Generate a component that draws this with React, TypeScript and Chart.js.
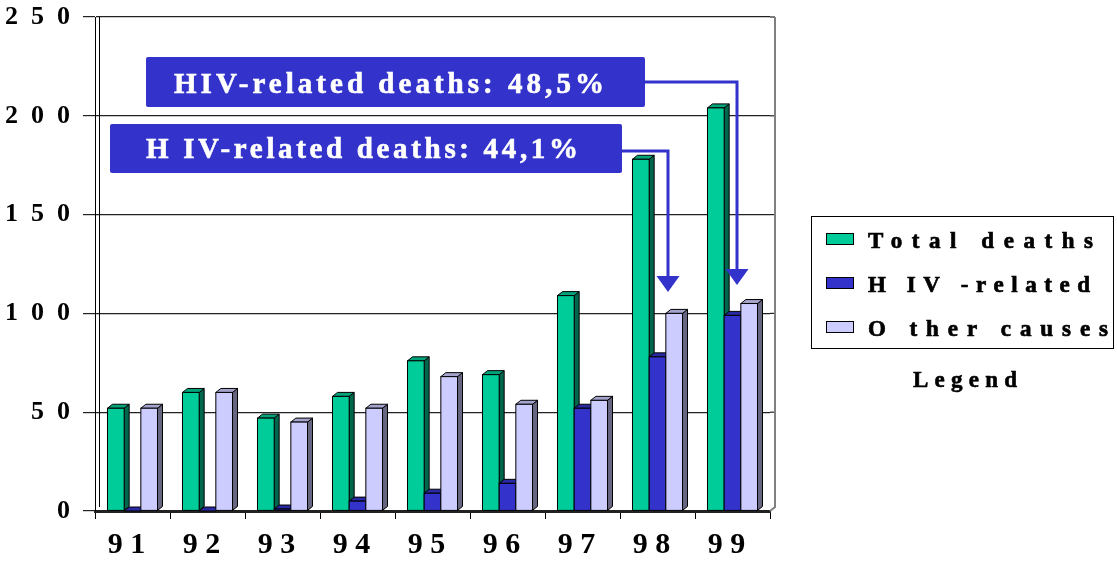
import React, { useEffect, useRef } from "react";
import { Chart, registerables } from "chart.js";

Chart.register(...registerables);

// ---- data ----
const years = ["91", "92", "93", "94", "95", "96", "97", "98", "99"];
const totalDeaths = [52, 60, 47, 58, 76, 69, 109, 178, 204];
const hivRelated = [0, 0, 1, 5, 9, 14, 52, 78, 99];
const otherCauses = [52, 60, 45, 52, 68, 54, 56, 100, 105];
const seriesLabels = ["Total deaths", "H IV -related", "O ther causes"];
const yTickValues = [0, 50, 100, 150, 200, 250];
const legendTitle = "Legend";
const calloutTexts = ["HIV-related deaths: 48,5%", "H IV-related deaths: 44,1%"];

// ---- styles ----
const FRONT = ["#00CC99", "#3333CC", "#CCCCFF"];
const SIDE = ["#00664C", "#1A1A66", "#666680"];
const TOP = ["#00A37A", "#2929A3", "#A3A3CC"];
const DX = 5;
const DY = 4;
const FONT = "'Liberation Serif', 'Times New Roman', serif";
const CALLOUT_BLUE = "#3333CC";

function spacedText(ctx: CanvasRenderingContext2D, text: string, x: number, y: number, width: number, heavy = 0) {
  const anyCtx = ctx as any;
  anyCtx.letterSpacing = "0px";
  const nat = ctx.measureText(text).width;
  const sp = (width - nat) / Math.max(1, text.length - 1);
  if ("letterSpacing" in anyCtx) {
    anyCtx.letterSpacing = sp.toFixed(2) + "px";
    ctx.fillText(text, x, y);
    if (heavy > 0) {
      ctx.lineWidth = heavy;
      ctx.strokeStyle = ctx.fillStyle as string;
      ctx.strokeText(text, x, y);
    }
    anyCtx.letterSpacing = "0px";
  } else {
    let cx = x;
    for (const ch of text) {
      ctx.fillText(ch, cx, y);
      cx += ctx.measureText(ch).width + sp;
    }
  }
}

const wallPlugin = {
  id: "wall",
  beforeDatasetsDraw(chart: any) {
    const { ctx, chartArea } = chart;
    const ys = chart.scales.y;
    ctx.save();
    ctx.strokeStyle = "#222";
    ctx.lineWidth = 1.2;
    for (const v of yTickValues) {
      if (v === 0) continue;
      const py = ys.getPixelForValue(v);
      ctx.beginPath();
      ctx.moveTo(chartArea.right, py);
      ctx.lineTo(chartArea.right + DX, py);
      ctx.stroke();
    }
    ctx.strokeStyle = "#000";
    ctx.lineWidth = 1;
    ctx.beginPath();
    ctx.moveTo(chartArea.left + DX - 0.5, chartArea.top);
    ctx.lineTo(chartArea.left + DX - 0.5, chartArea.bottom - DY);
    ctx.stroke();
    ctx.strokeStyle = "#808080";
    ctx.lineWidth = 2;
    ctx.beginPath();
    ctx.moveTo(chartArea.right + DX, chartArea.top);
    ctx.lineTo(chartArea.right + DX, chartArea.bottom - DY);
    ctx.lineTo(chartArea.right, chartArea.bottom);
    ctx.stroke();
    ctx.restore();
  },
};

const barsPlugin = {
  id: "bars3d",
  afterDatasetsDraw(chart: any) {
    const ctx: CanvasRenderingContext2D = chart.ctx;
    const n = chart.data.labels.length;
    ctx.save();
    ctx.lineWidth = 1;
    ctx.strokeStyle = "#000";
    for (let i = 0; i < n; i++) {
      chart.data.datasets.forEach((_: any, d: number) => {
        const el = chart.getDatasetMeta(d).data[i];
        if (!el) return;
        const p = el.getProps(["x", "y", "base", "width"], true);
        const l = p.x - p.width / 2;
        const r = p.x + p.width / 2;
        const t = Math.min(p.y, p.base);
        const b = Math.max(p.y, p.base);
        ctx.beginPath();
        ctx.moveTo(r, t);
        ctx.lineTo(r + DX, t - DY);
        ctx.lineTo(r + DX, b - DY);
        ctx.lineTo(r, b);
        ctx.closePath();
        ctx.fillStyle = SIDE[d];
        ctx.fill();
        ctx.stroke();
        ctx.beginPath();
        ctx.moveTo(l, t);
        ctx.lineTo(l + DX, t - DY);
        ctx.lineTo(r + DX, t - DY);
        ctx.lineTo(r, t);
        ctx.closePath();
        ctx.fillStyle = TOP[d];
        ctx.fill();
        ctx.stroke();
        if (b - t > 0.5) {
          ctx.fillStyle = FRONT[d];
          ctx.fillRect(l, t, r - l, b - t);
          ctx.strokeRect(l, t, r - l, b - t);
        }
      });
    }
    ctx.restore();
  },
};

const annotationPlugin = {
  id: "annotations",
  afterDraw(chart: any) {
    const ctx: CanvasRenderingContext2D = chart.ctx;
    ctx.save();
    const boxes = [
      { x: 146, y: 57, w: 499, h: 50, tx: 174, ty: 93, tw: 430, path: [[645, 82], [737, 82], [737, 270]], tip: [737, 285] },
      { x: 110, y: 124, w: 512, h: 49, tx: 146, ty: 158, tw: 432, path: [[622, 151], [668, 151], [668, 279]], tip: [668, 292] },
    ];
    boxes.forEach((bx, k) => {
      ctx.fillStyle = CALLOUT_BLUE;
      ctx.beginPath();
      (ctx as any).roundRect ? (ctx as any).roundRect(bx.x, bx.y, bx.w, bx.h, 2) : ctx.rect(bx.x, bx.y, bx.w, bx.h);
      ctx.fill();
      ctx.fillStyle = "#FFFFFF";
      ctx.font = `bold 29px ${FONT}`;
      ctx.textBaseline = "alphabetic";
      ctx.textAlign = "left";
      spacedText(ctx, calloutTexts[k], bx.tx, bx.ty, bx.tw, 0.6);
      ctx.strokeStyle = CALLOUT_BLUE;
      ctx.lineWidth = 3;
      ctx.beginPath();
      ctx.moveTo(bx.path[0][0], bx.path[0][1]);
      for (let j = 1; j < bx.path.length; j++) ctx.lineTo(bx.path[j][0], bx.path[j][1]);
      ctx.stroke();
      ctx.fillStyle = CALLOUT_BLUE;
      ctx.beginPath();
      ctx.moveTo(bx.tip[0] - 11.5, bx.tip[1] - 16);
      ctx.lineTo(bx.tip[0] + 11.5, bx.tip[1] - 16);
      ctx.lineTo(bx.tip[0], bx.tip[1]);
      ctx.closePath();
      ctx.fill();
    });

    // legend
    ctx.strokeStyle = "#000";
    ctx.lineWidth = 1;
    ctx.strokeRect(811.5, 216.5, 302, 132);
    const rows = [233, 277, 321];
    const widths = [225, 222, 240];
    ctx.font = `bold 23px ${FONT}`;
    ctx.textBaseline = "alphabetic";
    chart.data.datasets.forEach((ds: any, d: number) => {
      ctx.fillStyle = FRONT[d];
      ctx.fillRect(826, rows[d], 27, 11);
      ctx.strokeStyle = "#000";
      ctx.lineWidth = 1;
      ctx.strokeRect(826.5, rows[d] + 0.5, 27, 11);
      ctx.fillStyle = "#000";
      spacedText(ctx, ds.label, 868, rows[d] + 15, widths[d], 0.7);
    });
    ctx.font = `bold 23px ${FONT}`;
    ctx.fillStyle = "#000";
    spacedText(ctx, legendTitle, 913, 387, 104, 0.6);
    ctx.restore();
  },
};

export default function App() {
  const canvasRef = useRef<HTMLCanvasElement | null>(null);

  useEffect(() => {
    document.body.style.margin = "0";
    const canvas = canvasRef.current;
    if (!canvas) return;
    const chart = new Chart(canvas, {
      type: "bar",
      data: {
        labels: years,
        datasets: [
          { label: seriesLabels[0], data: totalDeaths, backgroundColor: FRONT[0], borderColor: "#000", borderWidth: 1 },
          { label: seriesLabels[1], data: hivRelated, backgroundColor: FRONT[1], borderColor: "#000", borderWidth: 1 },
          { label: seriesLabels[2], data: otherCauses, backgroundColor: FRONT[2], borderColor: "#000", borderWidth: 1 },
        ],
      },
      options: {
        animation: false,
        responsive: false,
        devicePixelRatio: 1,
        layout: { padding: { top: 17, right: 347, bottom: 0, left: 0 } },
        datasets: { bar: { categoryPercentage: 0.667, barPercentage: 1 } },
        plugins: { legend: { display: false }, tooltip: { enabled: false }, title: { display: false } },
        scales: {
          x: {
            offset: true,
            grid: { offset: true, drawOnChartArea: false, drawTicks: true, tickLength: 8, color: "#000", lineWidth: 1 },
            border: { display: true, color: "#222", width: 3 },
            ticks: {
              color: "#000",
              font: { family: FONT, size: 30, weight: "bold" },
              padding: 8,
              labelOffset: -6,
              callback: (_v: any, i: number) => years[i].split("").join(" "),
            },
            afterFit: (s: any) => {
              s.height = 52;
              s.paddingLeft = 0;
              s.paddingRight = 0;
            },
          },
          y: {
            min: 0,
            max: 250,
            ticks: {
              stepSize: 50,
              color: "#000",
              font: { family: FONT, size: 26, weight: "bold" },
              padding: 13,
              callback: (v: any) => String(v).split("").join("  "),
            },
            grid: { color: "#222", lineWidth: 1.2, tickLength: 12, drawTicks: true },
            border: { display: true, color: "#000", width: 1 },
            afterFit: (s: any) => {
              s.width = 95;
              s.paddingTop = 0;
              s.paddingBottom = 0;
            },
          },
        },
      },
      plugins: [wallPlugin, barsPlugin, annotationPlugin],
    } as any);
    return () => chart.destroy();
  }, []);

  return (
    <div style={{ position: "absolute", left: 0, top: 0, width: 1117, height: 563, background: "#fff" }}>
      <canvas ref={canvasRef} width={1117} height={563} style={{ display: "block", width: 1117, height: 563 }} />
    </div>
  );
}
